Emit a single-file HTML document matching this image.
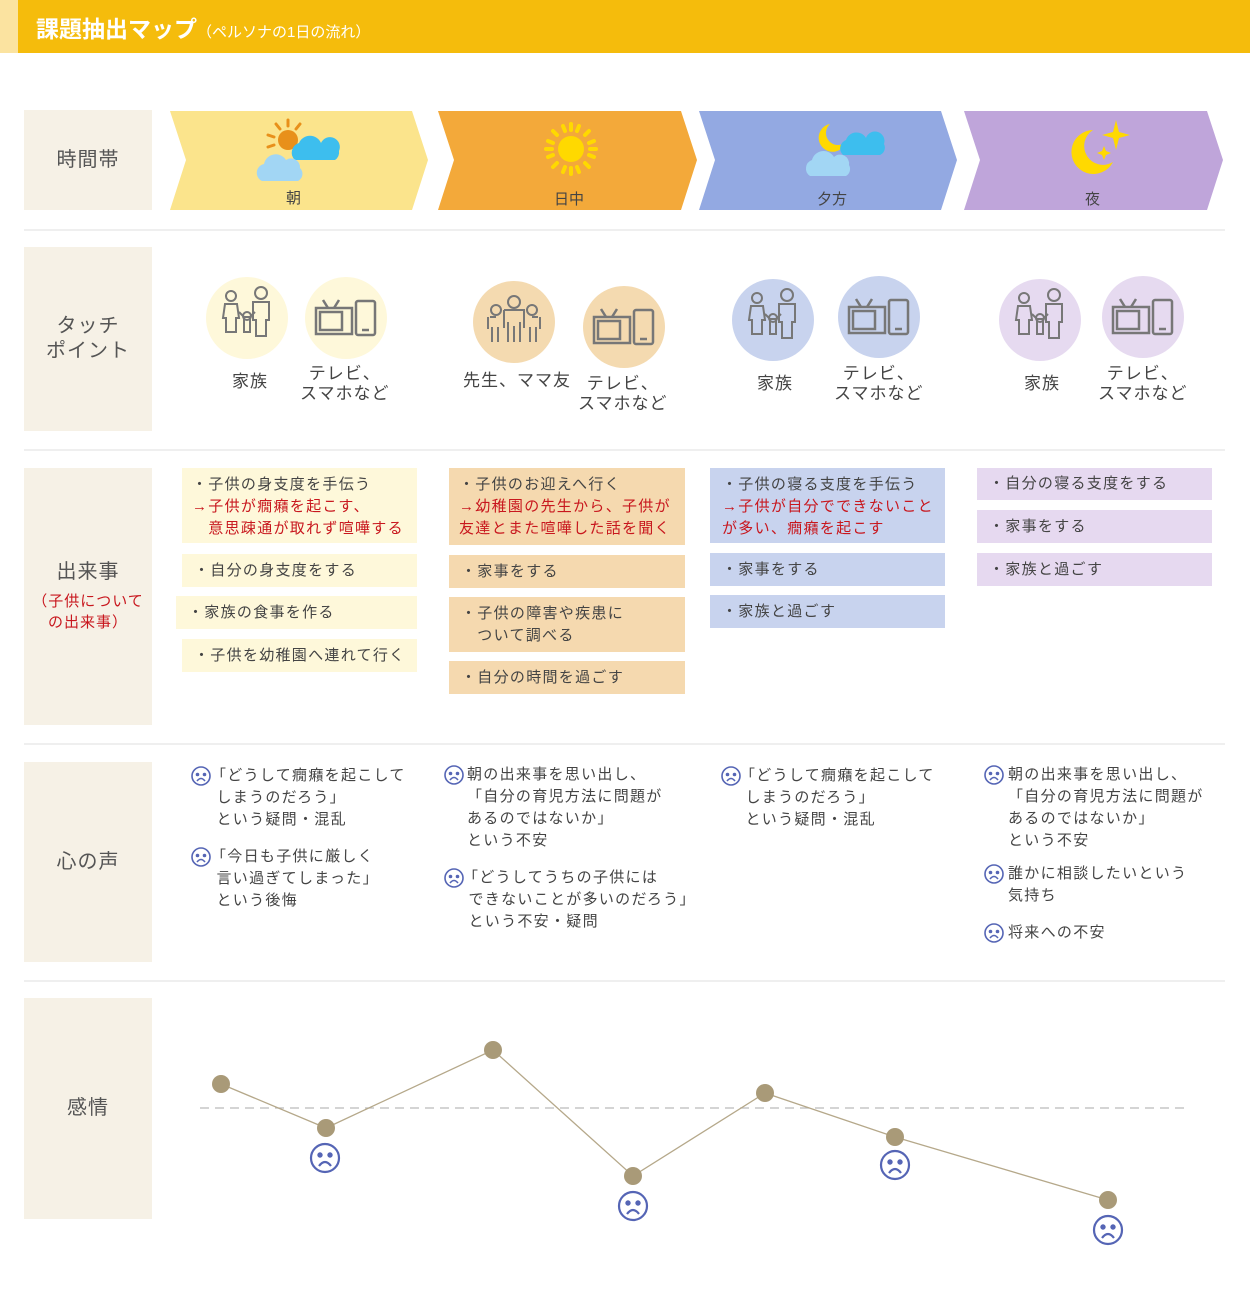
<!DOCTYPE html>
<html><head><meta charset="utf-8">
<style>
*{margin:0;padding:0;box-sizing:border-box}
body{width:1250px;height:1293px;position:relative;background:#fff;font-family:"Liberation Sans","Noto Sans CJK JP",sans-serif;color:#444;overflow:hidden}
.a{position:absolute}
.lab{position:absolute;left:24px;width:128px;background:#F6F1E6;display:flex;align-items:center;justify-content:center;text-align:center;font-size:20px;color:#555;letter-spacing:1px;line-height:25px}
.sep{position:absolute;left:24px;width:1201px;height:2px;background:#EFEFEF}
.ev{position:absolute;font-size:15px;letter-spacing:1.3px;line-height:22px;padding:6px 0 0 12px;color:#444}
.r{color:#C8171E}
.c1{background:#FEF8DA}.c2{background:#F5D9AF}.c3{background:#C8D3EE}.c4{background:#E6D9F0}
.vo{position:absolute;font-size:15px;letter-spacing:1.3px;line-height:22px;color:#444;white-space:nowrap}
.tp{position:absolute;font-size:17px;letter-spacing:1px;line-height:20px;text-align:center;color:#444;white-space:nowrap}
.circ{position:absolute;width:82px;height:82px;border-radius:50%}
</style></head><body>
<div class="a" style="left:0;top:0;width:1250px;height:53px;background:#F5BC0C"></div>
<div class="a" style="left:0;top:0;width:18px;height:53px;background:#FBE3A0"></div>
<div class="a" style="left:36px;top:10px;color:#fff;font-size:23px;font-weight:bold;white-space:nowrap">課題抽出マップ<span style="font-size:15px;font-weight:normal">（ペルソナの1日の流れ）</span></div>

<div class="lab" style="top:110px;height:100px">時間帯</div>
<div class="lab" style="top:247px;height:184px">タッチ<br>ポイント</div>
<div class="lab" style="top:468px;height:257px;flex-direction:column"><div>出来事</div><div style="font-size:15px;color:#C8171E;line-height:21px;margin-top:6px">（子供について<br>の出来事）</div></div>
<div class="lab" style="top:762px;height:200px">心の声</div>
<div class="lab" style="top:998px;height:221px">感情</div>
<div class="sep" style="top:229px"></div>
<div class="sep" style="top:449px"></div>
<div class="sep" style="top:743px"></div>
<div class="sep" style="top:980px"></div>

<svg class="a" style="left:0;top:0" width="1250" height="230">
<polygon points="170,111 412,111 428,160 412,210 170,210 186,160" fill="#FBE48C"/>
<polygon points="438,111 681,111 697,160 681,210 438,210 454,160" fill="#F3A93A"/>
<polygon points="699,111 941,111 957,160 941,210 699,210 715,160" fill="#93A9E2"/>
<polygon points="964,111 1207,111 1223,160 1207,210 964,210 980,160" fill="#BFA5DA"/>
<g stroke="#E8901A" stroke-width="3" stroke-linecap="round">
<line x1="288" y1="120" x2="288" y2="126"/><line x1="276" y1="124" x2="280" y2="129"/><line x1="300" y1="124" x2="296" y2="129"/><line x1="268" y1="135" x2="274" y2="137"/><line x1="268" y1="147" x2="274" y2="145"/></g>
<circle cx="288" cy="140" r="10" fill="#E8901A"/>
<path d="M295,160 a10,10 0 0 1 4,-17 a12,12 0 0 1 22,0 a9,9 0 0 1 18,8 a9,9 0 0 1 -4,9z" fill="#3DBEEE"/>
<path d="M262,181 a9,9 0 0 1 2,-17 a12,12 0 0 1 22,-4 a9,9 0 0 1 14,8 a8,8 0 0 1 -2,13z" fill="#A2D6F4"/>
<g stroke="#FFD900" stroke-width="4" stroke-linecap="round">
<line x1="571" y1="124" x2="571" y2="130"/><line x1="571" y1="168" x2="571" y2="174"/><line x1="546" y1="149" x2="552" y2="149"/><line x1="590" y1="149" x2="596" y2="149"/>
<line x1="553" y1="131" x2="557" y2="135"/><line x1="589" y1="131" x2="585" y2="135"/><line x1="553" y1="167" x2="557" y2="163"/><line x1="589" y1="167" x2="585" y2="163"/>
<line x1="563" y1="126" x2="565" y2="131"/><line x1="579" y1="126" x2="577" y2="131"/><line x1="563" y1="172" x2="565" y2="167"/><line x1="579" y1="172" x2="577" y2="167"/>
<line x1="548" y1="141" x2="553" y2="143"/><line x1="594" y1="141" x2="589" y2="143"/><line x1="548" y1="157" x2="553" y2="155"/><line x1="594" y1="157" x2="589" y2="155"/></g>
<circle cx="571" cy="149" r="13" fill="#FFD900"/>
<path d="M830,124 a14,14 0 1 0 16,18 a12,12 0 0 1 -16,-18z" fill="#FFD900"/>
<path d="M843,155 a9,9 0 0 1 3,-15 a11,11 0 0 1 20,-2 a9,9 0 0 1 18,6 a8,8 0 0 1 -4,11z" fill="#3DBEEE"/>
<path d="M810,176 a9,9 0 0 1 2,-16 a12,12 0 0 1 22,-3 a9,9 0 0 1 15,8 a8,8 0 0 1 -3,11z" fill="#A2D6F4"/>
<path d="M1093,130 a22,22 0 1 0 20,32 a18,18 0 0 1 -20,-32z" fill="#FFD900"/>
<path d="M1116,120 l3,12 l11,3 l-11,3 l-3,12 l-3,-12 l-11,-3 l11,-3z" fill="#FFD900"/>
<path d="M1104,146 l2,5 l5,2 l-5,2 l-2,5 l-2,-5 l-5,-2 l5,-2z" fill="#FFD900"/>
</svg>
<div class="a" style="left:286px;top:187px;font-size:15px">朝</div>
<div class="a" style="left:554px;top:188px;font-size:15px">日中</div>
<div class="a" style="left:817px;top:188px;font-size:15px">夕方</div>
<div class="a" style="left:1085px;top:188px;font-size:15px">夜</div>

<div class="circ" style="left:206px;top:277px;background:#FEF8DA"></div>
<div class="circ" style="left:305px;top:277px;background:#FEF8DA"></div>
<div class="circ" style="left:473px;top:281px;background:#F4DAB0"></div>
<div class="circ" style="left:583px;top:286px;background:#F4DAB0"></div>
<div class="circ" style="left:732px;top:279px;background:#C8D3EE"></div>
<div class="circ" style="left:838px;top:276px;background:#C8D3EE"></div>
<div class="circ" style="left:999px;top:279px;background:#E6DAF0"></div>
<div class="circ" style="left:1102px;top:276px;background:#E6DAF0"></div>
<svg class="a" style="left:0;top:0" width="1250" height="440">
<defs>
<g id="fam" fill="none" stroke="#777" stroke-width="2">
<circle cx="-16" cy="-22" r="5"/><path d="M-22,-14 h12 l2,14 h-3 v14 h-10 v-14 h-3z"/>
<circle cx="14" cy="-25" r="6"/><path d="M6,-16 h16 v18 h-3 v16 h-10 v-16 h-3z"/>
<circle cx="0" cy="-2" r="4"/><path d="M-8,-6 l5,5 h6 l5,-5 M-3,0 v14 h6 v-14"/>
</g>
<g id="tv" fill="none" stroke="#777" stroke-width="2.5">
<rect x="-30" y="-10" width="36" height="26"/><rect x="-26" y="-6" width="22" height="18"/>
<path d="M-18,-10 l-5,-8 M-12,-10 l5,-8"/><rect x="10" y="-17" width="19" height="34" rx="2"/><line x1="16" y1="12" x2="23" y2="12"/>
</g>
<g id="grp" fill="none" stroke="#777" stroke-width="2">
<circle cx="0" cy="-20" r="6"/><path d="M-10,-12 h20 v18 M-10,-12 v18 M-6,0 v20 M6,0 v20 M0,4 v16"/>
<circle cx="-18" cy="-12" r="5"/><path d="M-24,-5 h6 M-26,-5 v12 M-22,5 v15 M-16,5 v15"/>
<circle cx="18" cy="-12" r="5"/><path d="M18,-5 h6 M26,-5 v12 M22,5 v15 M16,5 v15"/>
</g>
</defs>
<use href="#fam" x="247" y="318"/><use href="#tv" x="346" y="318"/>
<use href="#grp" x="514" y="322"/><use href="#tv" x="624" y="327"/>
<use href="#fam" x="773" y="320"/><use href="#tv" x="879" y="317"/>
<use href="#fam" x="1040" y="320"/><use href="#tv" x="1143" y="317"/>
</svg>
<div class="tp" style="left:232px;top:372px">家族</div>
<div class="tp" style="left:300px;top:364px">テレビ、<br>スマホなど</div>
<div class="tp" style="left:463px;top:371px">先生、ママ友</div>
<div class="tp" style="left:578px;top:374px">テレビ、<br>スマホなど</div>
<div class="tp" style="left:757px;top:374px">家族</div>
<div class="tp" style="left:834px;top:364px">テレビ、<br>スマホなど</div>
<div class="tp" style="left:1024px;top:374px">家族</div>
<div class="tp" style="left:1098px;top:364px">テレビ、<br>スマホなど</div>

<div class="ev c1" style="left:182px;top:468px;width:235px;height:75px;padding-left:10px;padding-top:6px">・子供の身支度を手伝う<br><span class="r">→子供が癇癪を起こす、<br>　意思疎通が取れず喧嘩する</span></div>
<div class="ev c1" style="left:182px;top:554px;width:235px;height:33px">・自分の身支度をする</div>
<div class="ev c1" style="left:176px;top:596px;width:241px;height:33px">・家族の食事を作る</div>
<div class="ev c1" style="left:182px;top:639px;width:235px;height:33px">・子供を幼稚園へ連れて行く</div>

<div class="ev c2" style="left:449px;top:468px;width:236px;height:77px;padding-left:10px">・子供のお迎えへ行く<br><span class="r">→幼稚園の先生から、子供が<br>友達とまた喧嘩した話を聞く</span></div>
<div class="ev c2" style="left:449px;top:555px;width:236px;height:33px">・家事をする</div>
<div class="ev c2" style="left:449px;top:597px;width:236px;height:55px">・子供の障害や疾患に<br>　ついて調べる</div>
<div class="ev c2" style="left:449px;top:661px;width:236px;height:33px">・自分の時間を過ごす</div>

<div class="ev c3" style="left:710px;top:468px;width:235px;height:75px;padding-left:12px">・子供の寝る支度を手伝う<br><span class="r">→子供が自分でできないこと<br>が多い、癇癪を起こす</span></div>
<div class="ev c3" style="left:710px;top:553px;width:235px;height:33px">・家事をする</div>
<div class="ev c3" style="left:710px;top:595px;width:235px;height:33px">・家族と過ごす</div>

<div class="ev c4" style="left:977px;top:468px;width:235px;height:32px;padding-top:5px">・自分の寝る支度をする</div>
<div class="ev c4" style="left:977px;top:510px;width:235px;height:33px">・家事をする</div>
<div class="ev c4" style="left:977px;top:553px;width:235px;height:33px">・家族と過ごす</div>

<svg class="a" style="left:0;top:0" width="1250" height="1293">
<defs>
<g id="sad" fill="none" stroke="#5565B5" stroke-width="1.6"><circle r="9"/><circle cx="-3.5" cy="-1.5" r="1" fill="#5565B5"/><circle cx="3.5" cy="-1.5" r="1" fill="#5565B5"/><path d="M-4,5 q4,-5 8,0"/></g>
<g id="sadL" fill="none" stroke="#5565B5" stroke-width="2.2"><circle r="14"/><circle cx="-5" cy="-3" r="1.6" fill="#5565B5"/><circle cx="5" cy="-3" r="1.6" fill="#5565B5"/><path d="M-6,8 q6,-8 12,0"/></g>
</defs>
<use href="#sad" x="201" y="776"/><use href="#sad" x="201" y="857"/>
<use href="#sad" x="454" y="775"/><use href="#sad" x="454" y="878"/>
<use href="#sad" x="731" y="776"/>
<use href="#sad" x="994" y="775"/><use href="#sad" x="994" y="874"/><use href="#sad" x="994" y="933"/>
<line x1="200" y1="1108" x2="1190" y2="1108" stroke="#BBB" stroke-width="1.3" stroke-dasharray="9,6"/>
<polyline points="221,1084 326,1128 493,1050 633,1176 765,1093 895,1137 1108,1200" fill="none" stroke="#B5A88A" stroke-width="1.3"/>
<g fill="#A99A78"><circle cx="221" cy="1084" r="9"/><circle cx="326" cy="1128" r="9"/><circle cx="493" cy="1050" r="9"/><circle cx="633" cy="1176" r="9"/><circle cx="765" cy="1093" r="9"/><circle cx="895" cy="1137" r="9"/><circle cx="1108" cy="1200" r="9"/></g>
<use href="#sadL" x="325" y="1158"/><use href="#sadL" x="633" y="1206"/><use href="#sadL" x="895" y="1165"/><use href="#sadL" x="1108" y="1230"/>
</svg>
<div class="vo" style="left:211px;top:765px">「どうして癇癪を起こして<br>&nbsp;しまうのだろう」<br>&nbsp;という疑問・混乱</div>
<div class="vo" style="left:211px;top:846px">「今日も子供に厳しく<br>&nbsp;言い過ぎてしまった」<br>&nbsp;という後悔</div>
<div class="vo" style="left:467px;top:764px">朝の出来事を思い出し、<br>「自分の育児方法に問題が<br>あるのではないか」<br>という不安</div>
<div class="vo" style="left:463px;top:867px">「どうしてうちの子供には<br>&nbsp;できないことが多いのだろう」<br>&nbsp;という不安・疑問</div>
<div class="vo" style="left:740px;top:765px">「どうして癇癪を起こして<br>&nbsp;しまうのだろう」<br>&nbsp;という疑問・混乱</div>
<div class="vo" style="left:1008px;top:764px">朝の出来事を思い出し、<br>「自分の育児方法に問題が<br>あるのではないか」<br>という不安</div>
<div class="vo" style="left:1008px;top:863px">誰かに相談したいという<br>気持ち</div>
<div class="vo" style="left:1008px;top:922px">将来への不安</div>
</body></html>
